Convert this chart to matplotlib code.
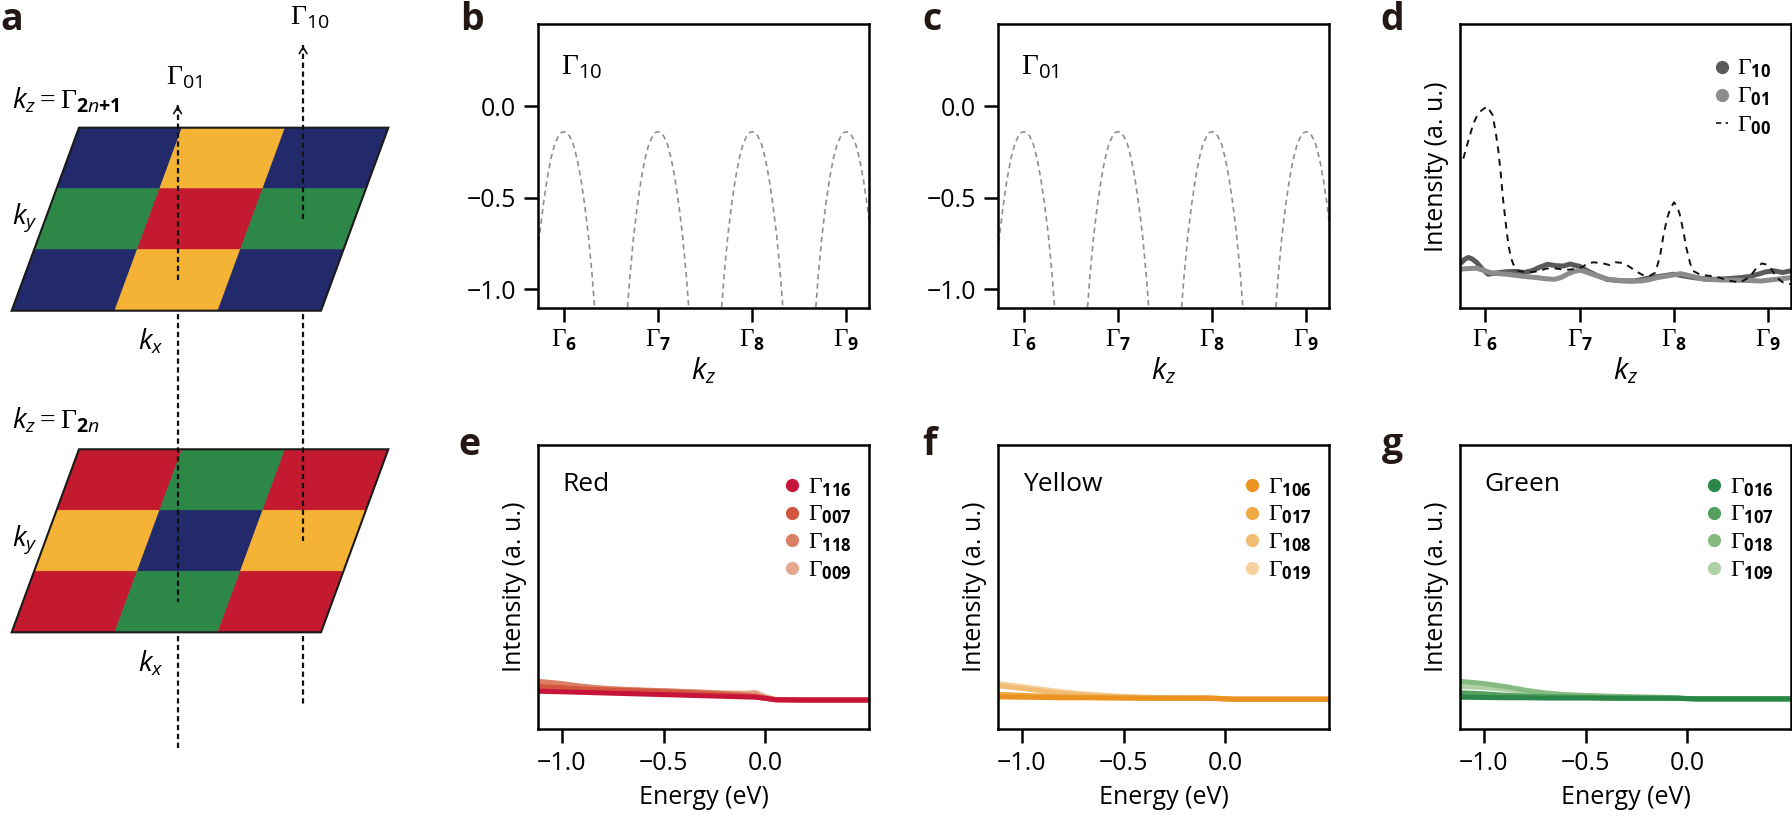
import numpy as np
import matplotlib
matplotlib.use('Agg')
import matplotlib.pyplot as plt
from matplotlib.patches import Polygon

plt.rcParams['font.family'] = ['Open Sans', 'DejaVu Sans']
plt.rcParams['mathtext.fontset'] = 'custom'
plt.rcParams['mathtext.rm'] = 'Liberation Serif'
plt.rcParams['mathtext.it'] = 'Open Sans:italic'
plt.rcParams['mathtext.sf'] = 'Open Sans'
plt.rcParams['mathtext.bf'] = 'Open Sans:bold'

W, H = 1792, 817

# ---------------- data ----------------
# b, c: одна арка зоны (смещение от Γ_n, энергия в эВ)
arch_dk = [-0.34, -0.30, -0.26, -0.22, -0.18, -0.14, -0.10, -0.06, -0.03, 0.0,
           0.03, 0.06, 0.10, 0.14, 0.18, 0.22, 0.26, 0.30, 0.34]
arch_E = [-1.20, -0.93, -0.71, -0.54, -0.40, -0.29, -0.21, -0.165, -0.145, -0.14,
          -0.145, -0.165, -0.21, -0.29, -0.40, -0.54, -0.71, -0.93, -1.20]
gamma_centers = [6, 7, 8, 9]
kz_ticklabels = [r'$\Gamma_{\mathbf{6}}$', r'$\Gamma_{\mathbf{7}}$',
                 r'$\Gamma_{\mathbf{8}}$', r'$\Gamma_{\mathbf{9}}$']

# d: интенсивность вдоль kz
kz_g00 = [5.767, 5.82, 5.873, 5.92, 5.961, 6.02, 6.078, 6.11, 6.138, 6.165, 6.19,
          6.22, 6.244, 6.27, 6.297, 6.35, 6.45, 6.55, 6.65, 6.75, 6.85, 6.95,
          7.03, 7.08, 7.15, 7.25, 7.32, 7.38, 7.45, 7.52, 7.6, 7.68, 7.74, 7.8,
          7.85, 7.89, 7.93, 7.96, 8.0, 8.03, 8.06, 8.1, 8.13, 8.17, 8.2, 8.28,
          8.38, 8.48, 8.59, 8.7, 8.8, 8.88, 8.93, 8.97, 9.02, 9.09, 9.15, 9.24]
int_g00 = [0.527, 0.59, 0.650, 0.683, 0.697, 0.711, 0.680, 0.62, 0.556, 0.47, 0.379,
           0.29, 0.226, 0.18, 0.155, 0.132, 0.126, 0.13, 0.14, 0.14, 0.135, 0.138,
           0.145, 0.158, 0.162, 0.158, 0.152, 0.162, 0.16, 0.148, 0.13, 0.115, 0.114, 0.125,
           0.18, 0.261, 0.32, 0.35, 0.373, 0.36, 0.332, 0.27, 0.214, 0.16, 0.132, 0.118,
           0.114, 0.108, 0.097, 0.091, 0.11, 0.144, 0.158, 0.155, 0.144, 0.108, 0.092, 0.085]

kz_g10 = [5.74, 5.78, 5.82, 5.86, 5.91, 5.97, 6.03, 6.13, 6.23, 6.32, 6.41, 6.5,
          6.58, 6.66, 6.75, 6.83, 6.9, 6.94, 7.0, 7.08, 7.18, 7.29, 7.43, 7.57,
          7.66, 7.75, 7.88, 8.0, 8.1, 8.21, 8.32, 8.42, 8.55, 8.71, 8.8, 8.89,
          8.97, 9.06, 9.15, 9.24]
int_g10 = [0.158, 0.172, 0.179, 0.174, 0.161, 0.138, 0.12, 0.125, 0.129, 0.13, 0.126, 0.133,
           0.145, 0.155, 0.15, 0.149, 0.156, 0.152, 0.148, 0.132, 0.116, 0.102, 0.097, 0.096,
           0.101, 0.108, 0.114, 0.12, 0.114, 0.108, 0.104, 0.102, 0.104, 0.108, 0.112, 0.12,
           0.128, 0.132, 0.126, 0.132]

kz_g01 = [5.74, 5.82, 5.91, 5.98, 6.05, 6.14, 6.23, 6.39, 6.55, 6.64, 6.73, 6.8,
          6.87, 6.94, 7.01, 7.1, 7.19, 7.28, 7.36, 7.5, 7.65, 7.74, 7.82, 7.95,
          8.07, 8.2, 8.32, 8.48, 8.64, 8.78, 8.92, 9.08, 9.24]
int_g01 = [0.138, 0.14, 0.141, 0.134, 0.126, 0.122, 0.12, 0.113, 0.108, 0.104, 0.102, 0.108,
           0.12, 0.13, 0.134, 0.124, 0.114, 0.104, 0.099, 0.097, 0.096, 0.101, 0.108, 0.115,
           0.122, 0.112, 0.102, 0.1, 0.099, 0.098, 0.096, 0.102, 0.108]

# e, f, g: энергетические профили
energy = [-1.12, -1.0, -0.9, -0.8, -0.7, -0.6, -0.5, -0.4, -0.3, -0.2, -0.1, -0.05,
          0.0, 0.05, 0.2, 0.35, 0.51]

red_labels = ['116', '007', '118', '009']
red_colors = ['#c8143a', '#d4553f', '#dc8065', '#e3a88f']
red_116 = [0.133, 0.131, 0.129, 0.127, 0.125, 0.123, 0.121, 0.119, 0.117, 0.115, 0.113, 0.112,
           0.108, 0.103, 0.102, 0.102, 0.102]
red_007 = [0.150, 0.145, 0.141, 0.138, 0.136, 0.134, 0.131, 0.128, 0.125, 0.121, 0.117, 0.114,
           0.108, 0.103, 0.102, 0.102, 0.102]
red_118 = [0.168, 0.160, 0.150, 0.143, 0.140, 0.137, 0.135, 0.132, 0.129, 0.125, 0.121, 0.119,
           0.110, 0.103, 0.102, 0.102, 0.102]
red_009 = [0.162, 0.157, 0.150, 0.144, 0.139, 0.136, 0.134, 0.132, 0.130, 0.127, 0.126, 0.129,
           0.114, 0.104, 0.102, 0.102, 0.102]

yellow_labels = ['106', '017', '108', '019']
yellow_colors = ['#eb9220', '#f0a844', '#f2bc72', '#f6d2a0']
yellow_106 = [0.113, 0.112, 0.111, 0.110, 0.110, 0.109, 0.109, 0.108, 0.108, 0.108, 0.108, 0.107,
              0.106, 0.105, 0.105, 0.105, 0.105]
yellow_017 = [0.122, 0.119, 0.116, 0.114, 0.112, 0.111, 0.110, 0.109, 0.109, 0.109, 0.109, 0.108,
              0.106, 0.105, 0.105, 0.105, 0.105]
yellow_108 = [0.152, 0.143, 0.134, 0.126, 0.120, 0.116, 0.113, 0.111, 0.110, 0.110, 0.110, 0.109,
              0.106, 0.105, 0.105, 0.105, 0.105]
yellow_019 = [0.160, 0.150, 0.140, 0.131, 0.124, 0.119, 0.115, 0.112, 0.111, 0.110, 0.110, 0.109,
              0.106, 0.105, 0.105, 0.105, 0.105]

green_labels = ['016', '107', '018', '109']
green_colors = ['#2a8748', '#56a05f', '#85ba80', '#b0d1a6']
green_016 = [0.112, 0.111, 0.110, 0.110, 0.109, 0.109, 0.109, 0.108, 0.108, 0.108, 0.108, 0.108,
             0.107, 0.106, 0.106, 0.106, 0.106]
green_107 = [0.128, 0.124, 0.119, 0.116, 0.114, 0.113, 0.112, 0.111, 0.110, 0.110, 0.109, 0.108,
             0.107, 0.106, 0.106, 0.106, 0.106]
green_018 = [0.168, 0.160, 0.150, 0.137, 0.127, 0.121, 0.118, 0.116, 0.114, 0.112, 0.111, 0.110,
             0.107, 0.106, 0.106, 0.106, 0.106]
green_109 = [0.150, 0.146, 0.140, 0.130, 0.123, 0.119, 0.116, 0.114, 0.113, 0.112, 0.111, 0.110,
             0.107, 0.106, 0.106, 0.106, 0.106]

# a: схема раскраски
c_blue, c_yellow, c_green, c_red = '#222a6c', '#f5b335', '#2d8848', '#c41a30'
grid_odd = [[c_blue, c_yellow, c_blue], [c_green, c_red, c_green], [c_blue, c_yellow, c_blue]]
grid_even = [[c_red, c_green, c_red], [c_yellow, c_blue, c_yellow], [c_red, c_green, c_red]]

TICK_FS = 18
LAB_FS = 18
KZ_FS = 22

fig = plt.figure(figsize=(W / 100, H / 100), dpi=100)


def add_ax(left_px, top_px, w_px=331, h_px=284):
    return fig.add_axes([left_px / W, 1 - (top_px + h_px) / H, w_px / W, h_px / H])


def style(ax):
    for s in ax.spines.values():
        s.set_linewidth(1.8)
    ax.tick_params(direction='out', length=10, width=1.8, labelsize=TICK_FS, pad=6)


def key(ax, colors, labels, mx, tx, y0, dy, dashed_last=False):
    # легенда вручную: кружок + подпись Γ
    for i, lab in enumerate(labels):
        y = y0 - i * dy
        if dashed_last and i == len(labels) - 1:
            ax.plot([mx - 0.018, mx + 0.02], [y, y], color='#111111', lw=1.2, ls=(0, (3.2, 2.6)),
                    transform=ax.transAxes, clip_on=False)
        else:
            ax.plot([mx], [y], 'o', ms=8.5, color=colors[i], transform=ax.transAxes, clip_on=False)
        ax.text(tx, y - 0.027, lab, transform=ax.transAxes, fontsize=17, ha='left', va='baseline')


# ---------------- a ----------------
ax_a = fig.add_axes([0, 0, 466 / W, 1])
ax_a.set_xlim(0, 466)
ax_a.set_ylim(H, 0)
ax_a.axis('off')

x0, width, shear, height = 11.7, 309.3, 67.3, 183.0
tops = [127.7, 449.3]
cell_w, cell_h = width / 3, height / 3


def x_left(y, top):
    return x0 + shear * (top + height - y) / height


for top, colors in zip(tops, [grid_odd, grid_even]):
    for r in range(3):
        for c in range(3):
            ya, yb = top + r * cell_h, top + (r + 1) * cell_h
            pts = [(x_left(ya, top) + c * cell_w, ya), (x_left(ya, top) + (c + 1) * cell_w, ya),
                   (x_left(yb, top) + (c + 1) * cell_w, yb), (x_left(yb, top) + c * cell_w, yb)]
            ax_a.add_patch(Polygon(pts, closed=True, facecolor=colors[r][c], edgecolor=colors[r][c], lw=0.5))
    outline = [(x_left(top, top), top), (x_left(top, top) + width, top),
               (x_left(top + height, top) + width, top + height), (x_left(top + height, top), top + height)]
    ax_a.add_patch(Polygon(outline, closed=True, fill=False, edgecolor='#1a1a1a', lw=1.5))

# вертикальные линии Γ01 (средний столбец, нижний ряд) и Γ10 (правый столбец, средний ряд)
lines_a = [(1, 2, 103, 748, r'$\Gamma_{\mathsf{01}}$'), (2, 1, 43, 704, r'$\Gamma_{\mathsf{10}}$')]
for col, row, tip, end, lab in lines_a:
    yc_up = tops[0] + (row + 0.5) * cell_h
    xc = x_left(yc_up, tops[0]) + (col + 0.5) * cell_w
    yc_low = tops[1] + (row + 0.5) * cell_h
    segs = [(yc_up, tip + 2), (tops[0] + height + 3, yc_low), (tops[1] + height + 4, end)]
    for ya, yb in segs:
        ax_a.plot([xc, xc], [ya, yb], color='#111111', lw=1.6, ls=(0, (2.4, 1.6)),
                  solid_capstyle='butt')
    ax_a.annotate('', xy=(xc, tip), xytext=(xc, tip + 6),
                  arrowprops=dict(arrowstyle='->,head_length=0.45,head_width=0.28', lw=1.2, color='#111111'))
    ax_a.text(xc + 7, tip - 26, lab, fontsize=20, ha='center', va='center')

ax_a.text(12, 101, r'$k_z=\Gamma_{\mathbf{2}n\mathbf{+1}}$', fontsize=20, ha='left', va='center')
ax_a.text(12, 421, r'$k_z=\Gamma_{\mathbf{2}n}$', fontsize=20, ha='left', va='center')
for top in tops:
    ax_a.text(12, top + 90, r'$k_y$', fontsize=20, ha='left', va='center')
    ax_a.text(138, top + 214, r'$k_x$', fontsize=20, ha='left', va='center')

# ---------------- b, c ----------------
for left, lab in [(538, r'$\Gamma_{\mathsf{10}}$'), (998, r'$\Gamma_{\mathsf{01}}$')]:
    ax = add_ax(left, 24.3)
    for g in gamma_centers:
        ax.plot([g + d for d in arch_dk], arch_E, color='#8f8f8f', lw=1.2, ls=(0, (3.2, 2.4)))
    ax.set_xlim(5.724, 9.24)
    ax.set_ylim(-1.104, 0.446)
    ax.set_yticks([0.0, -0.5, -1.0])
    ax.set_yticklabels(['0.0', '\u22120.5', '\u22121.0'])
    ax.set_xticks(gamma_centers)
    ax.set_xticklabels(kz_ticklabels, fontsize=KZ_FS)
    ax.set_xlabel(r'$k_z$', fontsize=21, labelpad=2)
    style(ax)
    ax.tick_params(axis='x', pad=4)
    ax.text(0.07, 0.85, lab, transform=ax.transAxes, fontsize=21, ha='left', va='center')

# ---------------- d ----------------
ax_d = add_ax(1460, 24.3)
ax_d.plot(kz_g10, int_g10, color='#5a5a5a', lw=3.6, solid_capstyle='butt')
ax_d.plot(kz_g01, int_g01, color='#8c8c8c', lw=3.6, solid_capstyle='butt')
ax_d.plot(kz_g00, int_g00, color='#111111', lw=1.4, ls=(0, (3.5, 3.0)))
ax_d.set_xlim(5.732, 9.24)
ax_d.set_ylim(0, 1)
ax_d.set_yticks([])
ax_d.set_xticks(gamma_centers)
ax_d.set_xticklabels(kz_ticklabels, fontsize=KZ_FS)
ax_d.set_xlabel(r'$k_z$', fontsize=21, labelpad=2)
ax_d.set_ylabel('Intensity (a. u.)', fontsize=LAB_FS, labelpad=8)
style(ax_d)
ax_d.tick_params(axis='x', pad=4)
key(ax_d, ['#5a5a5a', '#8c8c8c', '#111111'],
    [r'$\Gamma_{\mathbf{10}}$', r'$\Gamma_{\mathbf{01}}$', r'$\Gamma_{\mathbf{00}}$'],
    0.791, 0.836, 0.851, 0.0995, dashed_last=True)

# ---------------- e, f, g ----------------
panels = [(538, 'Red', red_labels, red_colors, [red_116, red_007, red_118, red_009]),
          (998, 'Yellow', yellow_labels, yellow_colors, [yellow_106, yellow_017, yellow_108, yellow_019]),
          (1460, 'Green', green_labels, green_colors, [green_016, green_107, green_018, green_109])]
for left, name, labs, cols, series in panels:
    ax = add_ax(left, 445)
    for vals, col in reversed(list(zip(series, cols))):
        ax.plot(energy, vals, color=col, lw=3.6, solid_capstyle='butt')
    ax.set_xlim(-1.118, 0.51)
    ax.set_ylim(0, 1)
    ax.set_yticks([])
    ax.set_xticks([-1.0, -0.5, 0.0])
    ax.set_xticklabels(['\u22121.0', '\u22120.5', '0.0'])
    ax.set_xlabel('Energy (eV)', fontsize=LAB_FS, labelpad=6)
    ax.set_ylabel('Intensity (a. u.)', fontsize=LAB_FS, labelpad=8)
    style(ax)
    ax.text(0.075, 0.86, name, transform=ax.transAxes, fontsize=19, ha='left', va='center')
    key(ax, cols, [r'$\Gamma_{\mathbf{%s}}$' % s for s in labs], 0.766, 0.815, 0.859, 0.0975)

# буквы панелей
for letter, xp, yp in [('a', 0, 30), ('b', 460, 30), ('c', 922, 30), ('d', 1380, 30),
                       ('e', 458, 455), ('f', 922, 455), ('g', 1382, 455)]:
    fig.text(xp / W, 1 - yp / H, letter, fontsize=27, fontweight='bold', va='baseline', ha='left',
             color='#231815')

fig.savefig('out.png', dpi=100)
